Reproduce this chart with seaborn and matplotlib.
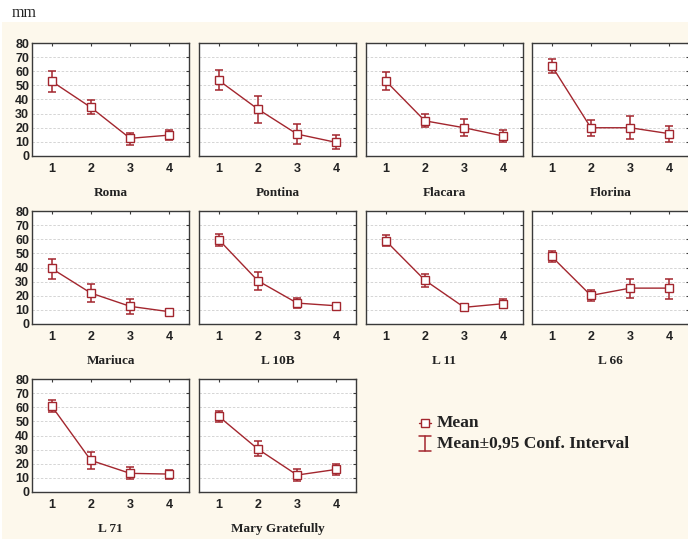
import matplotlib
matplotlib.use("Agg")
import matplotlib.pyplot as plt
import seaborn as sns
import pandas as pd
from matplotlib.patches import Rectangle
from matplotlib.lines import Line2D

# data: mean and 0.95 CI bounds per variety, classes 1..4
classes = [1, 2, 3, 4]
varieties = ["Roma", "Pontina", "Flacara", "Florina",
             "Mariuca", "L 10B", "L 11", "L 66",
             "L 71", "Mary Gratefully"]

means = {
    "Roma":            [52.9, 34.4, 12.5, 14.8],
    "Pontina":         [53.6, 33.2, 15.5, 9.6],
    "Flacara":         [53.2, 24.9, 20.0, 14.1],
    "Florina":         [64.0, 20.0, 20.0, 15.8],
    "Mariuca":         [39.3, 21.9, 12.5, 8.7],
    "L 10B":           [59.8, 30.6, 14.8, 12.9],
    "L 11":            [59.0, 31.0, 11.8, 14.4],
    "L 66":            [47.8, 20.2, 25.4, 25.4],
    "L 71":            [60.9, 22.4, 13.2, 12.7],
    "Mary Gratefully": [53.6, 30.4, 12.0, 16.0],
}
ci_low = {
    "Roma":            [45.4, 29.9, 8.0, 11.1],
    "Pontina":         [46.6, 23.5, 8.2, 4.7],
    "Flacara":         [47.0, 20.2, 14.4, 10.1],
    "Florina":         [58.8, 14.4, 11.8, 9.6],
    "Mariuca":         [32.0, 15.5, 7.0, 7.8],
    "L 10B":           [55.3, 24.2, 11.0, 11.3],
    "L 11":            [55.5, 26.4, 9.6, 11.3],
    "L 66":            [43.8, 16.2, 18.6, 17.9],
    "L 71":            [56.5, 16.0, 9.2, 9.4],
    "Mary Gratefully": [49.9, 25.2, 7.8, 12.2],
}
ci_high = {
    "Roma":            [60.5, 39.3, 16.5, 18.6],
    "Pontina":         [60.7, 42.6, 23.0, 14.6],
    "Flacara":         [59.5, 29.4, 25.9, 18.1],
    "Florina":         [68.7, 25.2, 28.0, 21.2],
    "Mariuca":         [46.1, 28.0, 17.6, 9.9],
    "L 10B":           [64.0, 36.7, 18.6, 14.6],
    "L 11":            [63.1, 35.5, 13.6, 17.4],
    "L 66":            [52.0, 24.2, 32.2, 32.2],
    "L 71":            [65.4, 28.2, 17.4, 15.8],
    "Mary Gratefully": [57.0, 35.8, 16.5, 19.5],
}
yticks = [0, 10, 20, 30, 40, 50, 60, 70, 80]

sns.set_style("white")
plt.rcParams["font.family"] = ["Liberation Sans", "DejaVu Sans"]

RED = "#A3262E"
CREAM = "#FDF8EC"
W, H = 688, 539

fig = plt.figure(figsize=(W / 100, H / 100), dpi=100, facecolor="white")
fig.patches.append(Rectangle((2 / W, 0), 1, 1 - 22 / H, transform=fig.transFigure,
                             facecolor=CREAM, edgecolor="none", zorder=-10))
fig.text(12 / W, 1 - 13 / H, "mm", family="Liberation Serif", fontsize=11.5,
         va="center", ha="left", color="#222222")

col_left = [32, 199, 366, 532]
row_top = [43, 211, 379]
pw, ph = 157, 113

for i, name in enumerate(varieties):
    r, c = divmod(i, 4)
    ax = fig.add_axes([col_left[c] / W, 1 - (row_top[r] + ph) / H, pw / W, ph / H])
    ax.set_facecolor("white")
    df = pd.DataFrame({"cls": classes, "mean": means[name],
                       "lo": ci_low[name], "hi": ci_high[name]})
    ax.errorbar(df["cls"], df["mean"],
                yerr=[df["mean"] - df["lo"], df["hi"] - df["mean"]],
                fmt="none", ecolor=RED, elinewidth=1.1, capsize=3.2, capthick=1.1,
                zorder=3)
    sns.lineplot(data=df, x="cls", y="mean", ax=ax, color=RED, lw=1.0,
                 marker="s", markersize=5.2, markerfacecolor="white",
                 markeredgecolor=RED, markeredgewidth=1.0, zorder=4)
    ax.set_xlim(0.5, 4.5)
    ax.set_ylim(0, 80)
    ax.set_xticks(classes)
    ax.set_yticks(yticks)
    ax.yaxis.grid(True, color="#CFCFCF", lw=0.6, ls=(0, (3, 2)))
    ax.set_axisbelow(True)
    for s in ax.spines.values():
        s.set_color("#3A3A3A")
        s.set_linewidth(1.0)
    ax.tick_params(direction="in", length=2.5, width=0.8, color="#3A3A3A",
                   top=True, right=True, labelsize=9, pad=5)
    for lab in ax.get_xticklabels() + ax.get_yticklabels():
        lab.set_fontweight("bold")
        lab.set_color("#222222")
    ax.tick_params(axis="y", pad=2)
    if c != 0:
        ax.set_yticklabels([])
    ax.set_ylabel("")
    ax.set_xlabel(name, family="Liberation Serif", fontweight="bold",
                  fontsize=9.5, color="#222222", labelpad=9)

# legend
def px(x, y):
    return x / W, 1 - y / H

tf = fig.transFigure
x0 = 425
fig.lines.append(Line2D([px(419, 0)[0], px(431, 0)[0]], [px(0, 423)[1]] * 2,
                        transform=tf, color=RED, lw=1.0))
fig.lines.append(Line2D([px(x0, 0)[0]], [px(0, 423)[1]], transform=tf, marker="s",
                        markersize=5.2, markerfacecolor="white",
                        markeredgecolor=RED, markeredgewidth=1.0, ls="none"))
fig.lines.append(Line2D([px(x0, 0)[0]] * 2, [px(0, 436)[1], px(0, 451)[1]],
                        transform=tf, color=RED, lw=1.1))
for yy in (436, 451):
    fig.lines.append(Line2D([px(419, 0)[0], px(431, 0)[0]], [px(0, yy)[1]] * 2,
                            transform=tf, color=RED, lw=1.1))
fig.text(*px(437, 423), "Mean", family="Liberation Serif", fontweight="bold",
         fontsize=12.5, va="center", ha="left", color="#222222")
fig.text(*px(437, 444), "Mean\u00b10,95 Conf. Interval", family="Liberation Serif",
         fontweight="bold", fontsize=12.5, va="center", ha="left", color="#222222")

fig.savefig("out.png", dpi=100, facecolor="white")
